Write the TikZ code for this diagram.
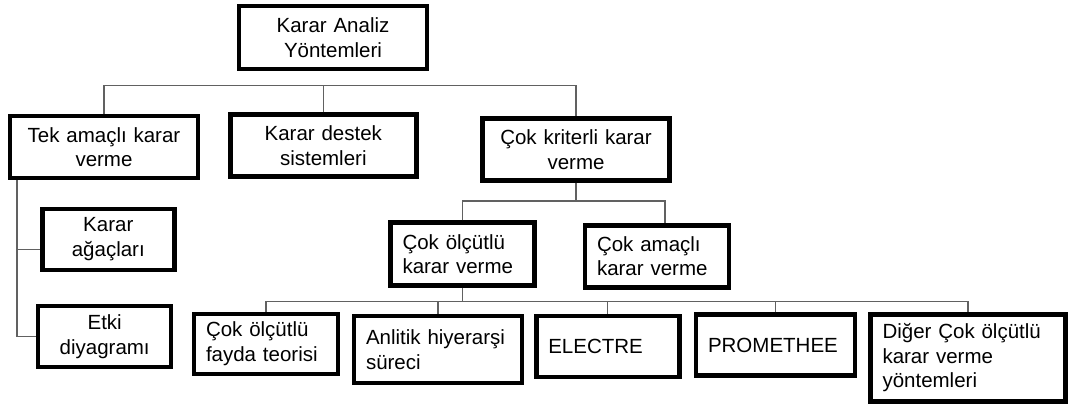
\documentclass[tikz,border=0pt]{standalone}
\usepackage{fontspec}
\setmainfont{Liberation Sans}
\usetikzlibrary{positioning}

\begin{document}
\begin{tikzpicture}[x=1pt, y=1pt, on grid,
        main/.style = {draw, line width=4.5pt, inner xsep=12pt, inner ysep=2pt, align=center, font=\fontsize{20.5}{24.5}\selectfont},
        lmain/.style = {main, align=left},
        link/.style = {draw=black!62, line width=1.3pt}]
        \useasboundingbox (0,0) rectangle (1072,-407);

        \node[main, text width=164pt, minimum height=63pt] (root) at (333,-37.5) {Karar Analiz\\Yöntemleri};
        \node[main, text width=164pt, minimum height=62pt] (tek) [below left=109.5pt and 229pt of root] {Tek amaçlı karar\\verme};
        \node[main, text width=162pt, minimum height=62pt] (destek) [below left=108.2pt and 9.7pt of root] {Karar destek\\sistemleri};
        \node[main, text width=163pt, minimum height=62pt] (kriter) [below right=112.2pt and 243pt of root] {Çok kriterli karar\\verme};

        \node[main, text width=108pt, minimum height=61pt] (agac) [below right=92.3pt and 4.3pt of tek] {Karar\\ağaçları};
        \node[main, text width=109pt, minimum height=61pt] (etki) [below left=97.4pt and 3.6pt of agac] {Etki\\diyagramı};

        \node[lmain, text width=120pt, minimum height=63pt] (olcutlu) [below left=104.3pt and 113.5pt of kriter] {Çok ölçütlü\\karar verme};
        \node[lmain, text width=120pt, minimum height=62pt] (amacli) [below right=106.6pt and 81pt of kriter] {Çok amaçlı\\karar verme};

        \node[lmain, text width=120pt, minimum height=60pt] (fayda) [below left=89.8pt and 196.5pt of olcutlu] {Çok ölçütlü\\fayda teorisi};
        \node[lmain, text width=144pt, minimum height=67pt] (ahp) [below right=5.7pt and 172pt of fayda] {Anlitik hiyerarşi\\süreci};
        \node[lmain, text width=119pt, minimum height=61pt] (electre) [above right=2.8pt and 169.8pt of ahp] {ELECTRE};
        \node[lmain, text width=135pt, minimum height=61pt] (prom) [above right=1.7pt and 167.7pt of electre] {PROMETHEE};
        \node[lmain, text width=171pt, minimum height=87pt] (diger) [below right=12.8pt and 192.5pt of prom] {Diğer Çok ölçütlü\\karar verme\\yöntemleri};

        \coordinate (b1) at ([yshift=-14.5pt]root.south);
        \coordinate (b2) at ([yshift=-18pt]kriter.south);
        \coordinate (b3) at ([yshift=-14pt]olcutlu.south);
        \coordinate (tl) at ([xshift=-87pt]tek.south);

        % first level
        \path[link] (tek.north) |- (b1) -| (kriter.north);
        \path[link] (destek.north) -- (destek.north |- b1);

        % tek amacli
        \path[link] (tl) |- (etki.west);
        \path[link] (tl |- agac.west) ++(0,-10) -- ([yshift=-10pt]agac.west);

        % cok kriterli
        \path[link] (kriter.south) -- (b2);
        \path[link] (olcutlu.north) |- (b2) -| ([xshift=8pt]amacli.north);

        % cok olcutlu
        \path[link] (olcutlu.south) -- (b3);
        \path[link] (fayda.north) |- (b3) -| (diger.north);
        \foreach \n in {ahp, electre, prom}
            \path[link] (\n.north) -- (\n.north |- b3);

\end{tikzpicture}
\end{document}
